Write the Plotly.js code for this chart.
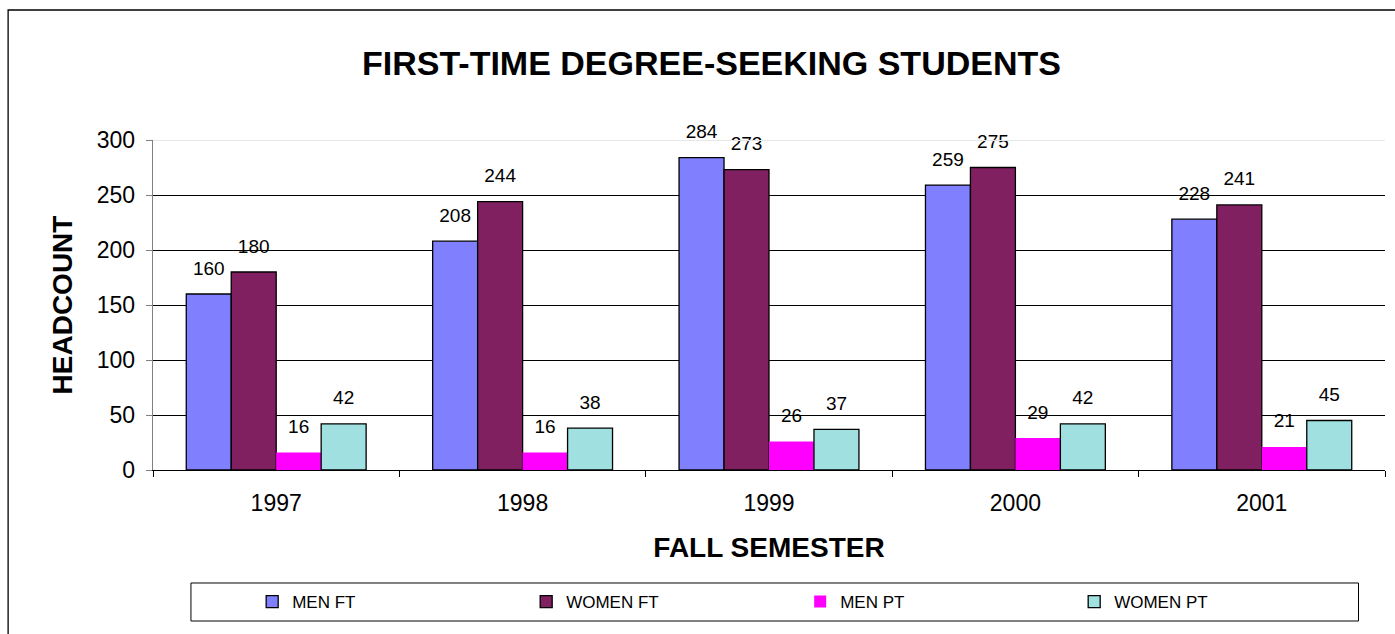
<!DOCTYPE html>
<html>
<head>
<meta charset="utf-8">
<script src="https://cdn.plot.ly/plotly-3.0.1.min.js"></script>
<style>html,body{margin:0;padding:0;background:#fff;}#chart{width:1395px;height:634px;}</style>
</head>
<body>
<div id="chart"></div>
<script>
const years = ["1997", "1998", "1999", "2000", "2001"];
const menFT = [160, 208, 284, 259, 228];
const womenFT = [180, 244, 273, 275, 241];
const menPT = [16, 16, 26, 29, 21];
const womenPT = [42, 38, 37, 42, 45];
const seriesNames = ["MEN FT", "WOMEN FT", "MEN PT", "WOMEN PT"];

const series = [menFT, womenFT, menPT, womenPT];
const colors = ["#8080FF", "#802060", "#FF00FF", "#A0E0E0"];
const outlines = [1.3, 1.3, 0, 1.3];
const F = "Arial, 'Liberation Sans', sans-serif";

const barTraces = series.map((vals, i) => ({
  type: "bar",
  name: seriesNames[i],
  x: years,
  y: vals,
  offsetgroup: String(i),
  marker: {color: colors[i], line: {color: "#000", width: outlines[i]}},
  hoverinfo: "x+y+name"
}));

const labelTraces = series.map((vals, i) => ({
  type: "scatter",
  mode: "markers+text",
  x: years,
  y: vals,
  offsetgroup: String(i),
  text: vals.map(String),
  textposition: "top center",
  textfont: {family: F, size: 19, color: "#000"},
  marker: {size: 22, opacity: 0, color: "#fff"},
  cliponaxis: false,
  showlegend: false,
  hoverinfo: "skip"
}));

const layout = {
  width: 1395, height: 634,
  margin: {l: 153, r: 9.5, t: 140, b: 164, pad: 0},
  paper_bgcolor: "#fff", plot_bgcolor: "#fff",
  font: {family: F, color: "#000"},
  title: {text: "<b>FIRST-TIME DEGREE-SEEKING STUDENTS</b>", font: {family: F, size: 34, color: "#000"},
          x: 0.51, xanchor: "center", y: 0.9, yanchor: "middle", yref: "container"},
  barmode: "group",
  scattermode: "group",
  bargap: 0.27,
  bargroupgap: 0,
  scattergap: 0.27,
  showlegend: true,
  legend: {orientation: "h", x: 0.0805, xanchor: "left", y: -0.4, yanchor: "middle",
           font: {family: F, size: 17, color: "#000"}, entrywidth: 229, entrywidthmode: "pixels",
           bgcolor: "rgba(0,0,0,0)", borderwidth: 0, traceorder: "normal"},
  xaxis: {type: "category", showline: true, linecolor: "#000", linewidth: 1,
          ticks: "outside", tickson: "boundaries", ticklen: 6, tickcolor: "#000",
          ticklabelstandoff: 12,
          tickfont: {family: F, size: 23, color: "#000"}, showgrid: false,
          title: {text: "<b>FALL SEMESTER</b>", font: {family: F, size: 28, color: "#000"}, standoff: 22},
          fixedrange: true},
  yaxis: {range: [0, 300], tickvals: [0, 50, 100, 150, 200, 250, 300], showline: true, linecolor: "#808080",
          linewidth: 1.3, ticks: "outside", ticklen: 6, tickcolor: "#808080",
          ticklabelstandoff: 6,
          tickfont: {family: F, size: 23, color: "#000"}, showgrid: true, gridcolor: "#000", gridwidth: 1,
          zeroline: false,
          title: {text: "<b>HEADCOUNT</b>", font: {family: F, size: 28, color: "#000"}, standoff: 16},
          fixedrange: true},
  shapes: [
    {type: "line", xref: "paper", yref: "y", x0: 0, x1: 1, y0: 300, y1: 300, line: {color: "#e6e6e6", width: 2}, layer: "above"},
    {type: "rect", xref: "paper", yref: "paper", x0: -0.1176, x1: 1.05, y0: -0.6, y1: 1.394, line: {color: "#000", width: 1.3}, fillcolor: "rgba(0,0,0,0)"},
    {type: "rect", xref: "paper", yref: "paper", x0: 0.0308, x1: 0.9785, y0: -0.4576, y1: -0.3424, line: {color: "#000", width: 1}, fillcolor: "rgba(0,0,0,0)"}
  ]
};

Plotly.newPlot("chart", barTraces.concat(labelTraces), layout, {displayModeBar: false, staticPlot: true});
</script>
</body>
</html>
